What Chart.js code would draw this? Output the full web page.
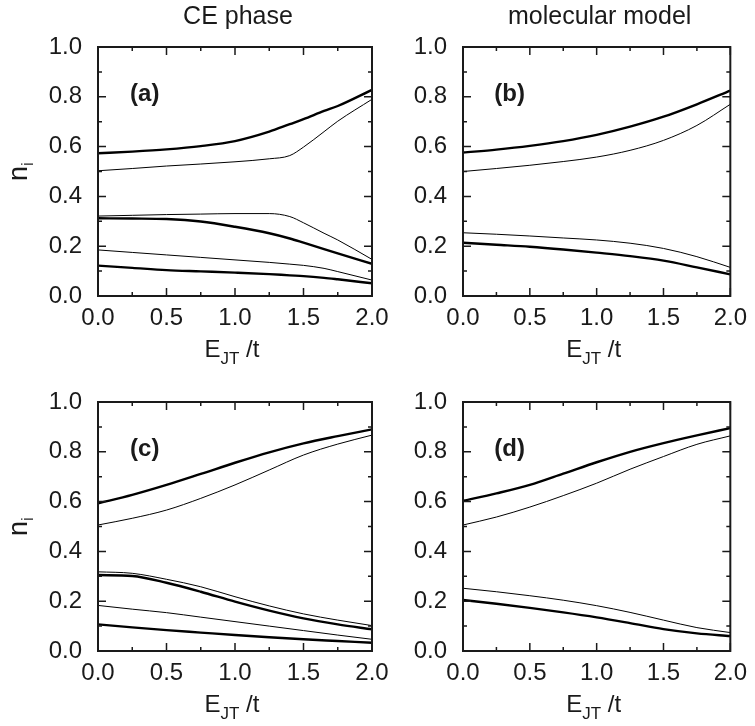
<!DOCTYPE html>
<html>
<head>
<meta charset="utf-8">
<script src="https://cdn.jsdelivr.net/npm/chart.js@4.4.1/dist/chart.umd.min.js"></script>
<style>
  html, body { margin: 0; padding: 0; background: #fff; }
  #wrap { position: relative; width: 755px; height: 726px; }
  #wrap canvas { position: absolute; left: 0; top: 0; }
</style>
</head>
<body>
<div id="wrap">
  <canvas id="pa" width="755" height="726"></canvas>
  <canvas id="pb" width="755" height="726"></canvas>
  <canvas id="pc" width="755" height="726"></canvas>
  <canvas id="pd" width="755" height="726"></canvas>
</div>
<script>
// x grid of the read-off points
const xs = [0, 0.25, 0.5, 0.75, 1.0, 1.25, 1.5, 1.75, 2.0];
const xsA = [0, 0.25, 0.5, 0.75, 1.0, 1.25, 1.4, 1.5, 1.65, 1.75, 2.0];

const xTicks = [0, 0.5, 1.0, 1.5, 2.0];
const yTicks = [0, 0.2, 0.4, 0.6, 0.8, 1.0];

// (a) CE phase, on xsA
const aThickTop = [0.573, 0.580, 0.589, 0.602, 0.622, 0.660, 0.690, 0.710, 0.743, 0.763, 0.828];
const aThinTop  = [0.503, 0.512, 0.522, 0.530, 0.539, 0.551, 0.564, 0.598, 0.660, 0.702, 0.790];
const aThinMid  = [0.321, 0.324, 0.327, 0.329, 0.331, 0.331, 0.319, 0.294, 0.252, 0.225, 0.147];
const aThickMid = [0.312, 0.311, 0.309, 0.299, 0.278, 0.252, 0.231, 0.214, 0.188, 0.171, 0.129];
const aThinLow  = [0.185, 0.175, 0.165, 0.155, 0.145, 0.135, 0.128, 0.123, 0.111, 0.098, 0.064];
const aThickLow = [0.122, 0.113, 0.104, 0.099, 0.094, 0.088, 0.083, 0.080, 0.073, 0.067, 0.051];

// (b) molecular model
const bThickTop = [0.576, 0.588, 0.603, 0.622, 0.647, 0.680, 0.720, 0.770, 0.825];
const bThinTop  = [0.500, 0.512, 0.525, 0.540, 0.558, 0.585, 0.625, 0.685, 0.770];
const bThinLow  = [0.254, 0.248, 0.241, 0.233, 0.225, 0.212, 0.191, 0.158, 0.115];
const bThickLow = [0.214, 0.206, 0.198, 0.187, 0.174, 0.160, 0.142, 0.115, 0.087];

// (c) CE phase
const cThickTop = [0.593, 0.627, 0.667, 0.711, 0.756, 0.798, 0.834, 0.863, 0.890];
const cThinTop  = [0.506, 0.533, 0.566, 0.613, 0.667, 0.727, 0.787, 0.831, 0.867];
const cThinMid  = [0.318, 0.312, 0.288, 0.258, 0.218, 0.181, 0.149, 0.124, 0.102];
const cThickMid = [0.305, 0.301, 0.274, 0.238, 0.198, 0.162, 0.131, 0.107, 0.087];
const cThinLow  = [0.183, 0.168, 0.154, 0.136, 0.118, 0.100, 0.082, 0.064, 0.047];
const cThickLow = [0.107, 0.095, 0.084, 0.074, 0.064, 0.055, 0.047, 0.040, 0.033];

// (d) molecular model
const dThickTop = [0.603, 0.633, 0.667, 0.712, 0.758, 0.800, 0.835, 0.866, 0.895];
const dThinTop  = [0.506, 0.538, 0.578, 0.624, 0.674, 0.730, 0.781, 0.830, 0.864];
const dThinLow  = [0.252, 0.238, 0.222, 0.204, 0.182, 0.155, 0.124, 0.094, 0.074];
const dThickLow = [0.205, 0.190, 0.173, 0.155, 0.135, 0.112, 0.088, 0.071, 0.060];

const W = 755, H = 726;
const FONT = "'Liberation Sans', Arial, Helvetica, sans-serif";
const INK = '#1a1a1a';
const X_AXIS_H = 40;

// inward ticks on all four sides, frame, titles and panel letters
const decor = {
  id: 'decor',
  afterDraw(chart, args, o) {
    const { ctx, chartArea: a, scales: { x, y } } = chart;
    ctx.save();
    ctx.strokeStyle = INK;
    ctx.lineWidth = 1.5;
    ctx.beginPath();
    const xv = x.ticks.map(t => t.value);
    const yv = y.ticks.map(t => t.value);
    const mids = v => v.slice(1).map((t, i) => (t + v[i]) / 2);
    xv.forEach(v => { const p = x.getPixelForValue(v); ctx.moveTo(p, a.bottom); ctx.lineTo(p, a.bottom - 8); ctx.moveTo(p, a.top); ctx.lineTo(p, a.top + 8); });
    mids(xv).forEach(v => { const p = x.getPixelForValue(v); ctx.moveTo(p, a.bottom); ctx.lineTo(p, a.bottom - 4); ctx.moveTo(p, a.top); ctx.lineTo(p, a.top + 4); });
    yv.forEach(v => { const p = y.getPixelForValue(v); ctx.moveTo(a.left, p); ctx.lineTo(a.left + 8, p); ctx.moveTo(a.right, p); ctx.lineTo(a.right - 8, p); });
    mids(yv).forEach(v => { const p = y.getPixelForValue(v); ctx.moveTo(a.left, p); ctx.lineTo(a.left + 4, p); ctx.moveTo(a.right, p); ctx.lineTo(a.right - 4, p); });
    ctx.stroke();
    ctx.lineWidth = 2;
    ctx.strokeRect(a.left, a.top, a.right - a.left, a.bottom - a.top);

    ctx.fillStyle = INK;
    const cx = (a.left + a.right) / 2;
    if (o.title) {
      ctx.font = '25px ' + FONT;
      ctx.textAlign = 'center';
      ctx.textBaseline = 'middle';
      ctx.fillText(o.title, cx + 3, 17);
    }
    // panel letter
    ctx.font = 'bold 24px ' + FONT;
    ctx.textAlign = 'left';
    ctx.textBaseline = 'middle';
    ctx.fillText(o.letter, x.getPixelForValue(0.234), y.getPixelForValue(0.81));

    // x title: E_JT /t
    ctx.textBaseline = 'alphabetic';
    ctx.font = '24px ' + FONT;
    const wE = ctx.measureText('E').width;
    const wT = ctx.measureText(' /t').width;
    ctx.font = '17px ' + FONT;
    const wS = ctx.measureText('JT').width;
    let sx = cx - 3 - (wE + wS + wT) / 2;
    const base = a.bottom + 61;
    ctx.font = '24px ' + FONT;
    ctx.fillText('E', sx, base);
    ctx.font = '17px ' + FONT;
    ctx.fillText('JT', sx + wE, base + 7);
    ctx.font = '24px ' + FONT;
    ctx.fillText(' /t', sx + wE + wS, base);

    // y title: n_i
    if (o.yTitle) {
      ctx.save();
      ctx.translate(27, (a.top + a.bottom) / 2);
      ctx.rotate(-Math.PI / 2);
      ctx.font = '27px ' + FONT;
      const wn = ctx.measureText('n').width;
      ctx.font = '17px ' + FONT;
      const wi = ctx.measureText('i').width;
      const s0 = -(wn + wi) / 2;
      ctx.font = '27px ' + FONT;
      ctx.fillText('n', s0, 0);
      ctx.font = '17px ' + FONT;
      ctx.fillText('i', s0 + wn, 6);
      ctx.restore();
    }
    ctx.restore();
  }
};

function makePanel(id, box, xsArr, series, o) {
  const datasets = series.map(([vals, thick]) => ({
    data: xsArr.map((x, i) => ({ x, y: vals[i] })),
    borderColor: '#000',
    borderWidth: thick ? 2.4 : 1,
    pointRadius: 0,
    fill: false,
    cubicInterpolationMode: 'monotone'
  }));
  const tickFont = { family: FONT, size: 24 };
  return new Chart(document.getElementById(id), {
    type: 'line',
    data: { datasets },
    options: {
      responsive: false,
      animation: false,
      events: [],
      layout: { padding: { left: 0, top: box.top, right: W - box.right, bottom: H - box.bottom - X_AXIS_H } },
      scales: {
        x: {
          type: 'linear', min: 0, max: 2,
          afterFit: s => { s.height = X_AXIS_H; },
          afterBuildTicks: s => { s.ticks = xTicks.map(v => ({ value: v })); },
          grid: { display: false, drawTicks: false },
          border: { display: false },
          ticks: { callback: v => v.toFixed(1), font: tickFont, color: INK, padding: 8, maxRotation: 0, autoSkip: false }
        },
        y: {
          type: 'linear', min: 0, max: 1,
          afterFit: s => { s.width = box.left; },
          afterBuildTicks: s => { s.ticks = yTicks.map(v => ({ value: v })); },
          grid: { display: false, drawTicks: false },
          border: { display: false },
          ticks: { callback: v => v.toFixed(1), font: tickFont, color: INK, padding: 16, autoSkip: false }
        }
      },
      plugins: {
        legend: { display: false },
        tooltip: { enabled: false },
        decor: o
      }
    },
    plugins: [decor]
  });
}

makePanel('pa', { left: 98, top: 47, right: 372, bottom: 296 }, xsA,
  [[aThickTop, true], [aThinTop, false], [aThinMid, false], [aThickMid, true], [aThinLow, false], [aThickLow, true]],
  { title: 'CE phase', letter: '(a)', yTitle: true });
makePanel('pb', { left: 463, top: 47, right: 737, bottom: 296 }, xs,
  [[bThickTop, true], [bThinTop, false], [bThinLow, false], [bThickLow, true]],
  { title: 'molecular model', letter: '(b)', yTitle: false });
makePanel('pc', { left: 98, top: 402, right: 372, bottom: 651 }, xs,
  [[cThickTop, true], [cThinTop, false], [cThinMid, false], [cThickMid, true], [cThinLow, false], [cThickLow, true]],
  { title: '', letter: '(c)', yTitle: true });
makePanel('pd', { left: 463, top: 402, right: 737, bottom: 651 }, xs,
  [[dThickTop, true], [dThinTop, false], [dThinLow, false], [dThickLow, true]],
  { title: '', letter: '(d)', yTitle: false });
</script>
</body>
</html>
